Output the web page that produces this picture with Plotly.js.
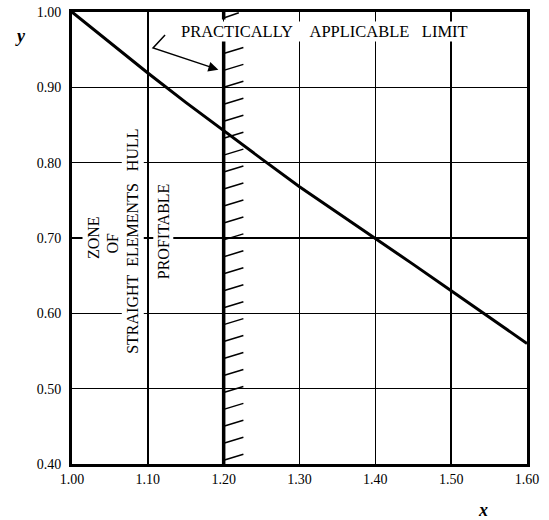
<!DOCTYPE html>
<html>
<head>
<meta charset="utf-8">
<script src="https://cdn.plot.ly/plotly-3.0.1.min.js"></script>
<style>html,body{margin:0;padding:0;background:#fff;}#chart{width:549px;height:520px;}</style>
</head>
<body>
<div id="chart"></div>
<script>
// Data
var xValues = [1.00, 1.05, 1.10, 1.15, 1.20, 1.25, 1.30, 1.35, 1.40, 1.45, 1.50, 1.55, 1.60];
var yValues = [1.000, 0.959, 0.919, 0.880, 0.842, 0.805, 0.768, 0.734, 0.700, 0.665, 0.630, 0.595, 0.560];
var limitX = 1.20;
var xTicks = [1.00, 1.10, 1.20, 1.30, 1.40, 1.50, 1.60];
var xTickLabels = ['1.00', '1.10', '1.20', '1.30', '1.40', '1.50', '1.60'];
var yTicks = [0.40, 0.50, 0.60, 0.70, 0.80, 0.90, 1.00];
var yTickLabels = ['0.40', '0.50', '0.60', '0.70', '0.80', '0.90', '1.00'];

var serif = '"Liberation Serif", "DejaVu Serif", serif';
var NB = '\u00a0';

// hatching marks to the right of the limit line (decoration)
var hx = [], hy = [];
for (var yy = 0.405; yy < 0.965; yy += 0.0225) {
  hx.push(limitX, limitX + 0.026, null);
  hy.push(yy, yy + 0.008, null);
}
hx.push(limitX, limitX + 0.02, null);
hy.push(0.992, 0.999, null);

var traces = [
  {x: hx, y: hy, mode: 'lines', line: {color: '#000', width: 1.5}, hoverinfo: 'skip'},
  {x: [limitX, limitX, null, limitX, limitX], y: [0.40, 0.963, null, 0.99, 1.0], mode: 'lines', line: {color: '#000', width: 3.5}, hoverinfo: 'skip'},
  {x: xValues, y: yValues, mode: 'lines', line: {color: '#000', width: 3}},
  {x: [1.1227, 1.1069, 1.19], y: [0.9695, 0.9523, 0.9245], mode: 'lines', line: {color: '#000', width: 1.5}, hoverinfo: 'skip'}
];

var plotW = 549 - 72 - 22, plotH = 520 - 12 - 56;
function px(p) { return (p - 72) / plotW; }
function py(p) { return 1 - (p - 12) / plotH; }

var layout = {
  width: 549, height: 520,
  margin: {l: 72, r: 22, t: 12, b: 56},
  paper_bgcolor: '#fff', plot_bgcolor: '#fff',
  showlegend: false,
  font: {family: serif, color: '#000', size: 14},
  xaxis: {
    range: [1.0, 1.6], tickvals: xTicks, ticktext: xTickLabels,
    showgrid: true, gridcolor: '#000', gridwidth: 1.5, zeroline: false,
    showline: true, linecolor: '#000', linewidth: 3, mirror: true,
    ticks: '', ticklabelstandoff: 0, tickfont: {family: serif, size: 14, color: '#000'},
    fixedrange: true
  },
  yaxis: {
    range: [0.4, 1.0], tickvals: yTicks, ticktext: yTickLabels,
    showgrid: true, gridcolor: '#000', gridwidth: 1.5, zeroline: false,
    showline: true, linecolor: '#000', linewidth: 3, mirror: true,
    ticks: '', ticklabelstandoff: 5, tickfont: {family: serif, size: 14, color: '#000'},
    fixedrange: true
  },
  annotations: [
    {x: 1.3325, y: 0.974, xref: 'x', yref: 'y',
     text: 'PRACTICALLY' + NB + NB + NB + NB + 'APPLICABLE' + NB + NB + NB + 'LIMIT', showarrow: false,
     font: {family: serif, size: 16.5, color: '#000'}, bgcolor: '#fff', borderpad: 0},
    {x: 1.193, y: 0.9235, ax: 1.185, ay: 0.926, xref: 'x', yref: 'y', axref: 'x', ayref: 'y', text: '',
     showarrow: true, arrowhead: 2, arrowsize: 1, arrowwidth: 2, arrowcolor: '#000'},
    {x: 1.0277, y: 0.700, xref: 'x', yref: 'y', text: 'ZONE', textangle: -90, showarrow: false,
     font: {family: serif, size: 16, color: '#000'}, bgcolor: '#fff', borderpad: 2},
    {x: 1.054, y: 0.694, xref: 'x', yref: 'y', text: 'OF', textangle: -90, showarrow: false,
     font: {family: serif, size: 16, color: '#000'}, bgcolor: '#fff', borderpad: 2},
    {x: 1.0805, y: 0.695, xref: 'x', yref: 'y', text: 'STRAIGHT' + NB + NB + 'ELEMENTS' + NB + NB + NB + 'HULL', textangle: -90, showarrow: false,
     font: {family: serif, size: 16, color: '#000'}, bgcolor: '#fff', borderpad: 2},
    {x: 1.12, y: 0.709, xref: 'x', yref: 'y', text: 'PROFITABLE', textangle: -90, showarrow: false,
     font: {family: serif, size: 16, color: '#000'}, bgcolor: '#fff', borderpad: 1},
    {x: px(13), y: py(24), xref: 'paper', yref: 'paper', text: '<b><i>y</i></b>', showarrow: false,
     font: {family: serif, size: 18, color: '#000'}},
    {x: px(490), y: py(522), xref: 'paper', yref: 'paper', text: '<b><i>x</i></b>', showarrow: false,
     font: {family: serif, size: 18, color: '#000'}}
  ]
};

Plotly.newPlot('chart', traces, layout, {displayModeBar: false, staticPlot: true});
</script>
</body>
</html>
